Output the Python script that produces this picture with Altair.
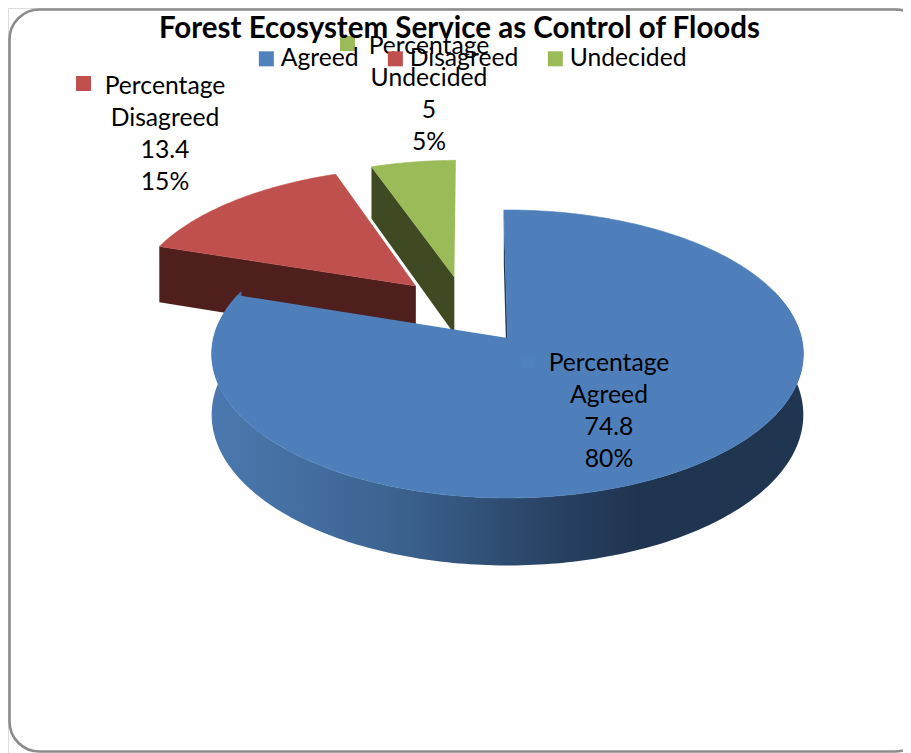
import math
import altair as alt
import pandas as pd

# ---- values
categories = ["Agreed", "Disagreed", "Undecided"]
values = [74.8, 13.4, 5]
percents = [80, 15, 5]

# ---- styles
face_colors = ["#4E7FBB", "#C0504D", "#9BBB59"]
wall_colors = ["#1F3450", "#4E1F1D", "#3F4A22"]
FONT = "Lato"
TEXT_SIZE = 24.7

# ---- layout / projection constants (screen pixels)
W, H = 895, 745
X0, Y0 = 507.5, 338
AX, BY, P = 294, 142.2, 0.111
DEPTH = 60
START = -0.8
explode = [(0, 0), (-0.325, 0.382), (-0.19, 0.451)]
key_x = [528, 83.5, 347.5]
key_y = [362, 83.5, 43.5]
label_x = [609, 165, 429]
label_y = [350.5, 73.5, 33.5]

X_SCALE = alt.Scale(domain=[8, 8 + W])
Y_SCALE = alt.Scale(domain=[8 + H, 8])
X = alt.X("x:Q", scale=X_SCALE, axis=None)
Y = alt.Y("y:Q", scale=Y_SCALE, axis=None)


def project(u, v, drop=False):
    d = 1 + P * v
    return X0 + AX * u / d, Y0 - BY * v / d + (DEPTH / d if drop else 0)


def rim(a0, a1, off, drop=False):
    n = max(2, int(abs(a1 - a0)) + 1)
    pts = []
    for k in range(n + 1):
        t = math.radians(a0 + (a1 - a0) * k / n)
        pts.append(project(off[0] + math.sin(t), off[1] + math.cos(t), drop))
    return pts


def poly(pts, fill, stroke=None):
    df = pd.DataFrame({"x": [p[0] for p in pts], "y": [p[1] for p in pts], "i": range(len(pts))})
    return (
        alt.Chart(df)
        .mark_line(fill=fill, stroke=stroke or "transparent", strokeWidth=0.6, clip=False)
        .encode(x=X, y=Y, order="i:Q")
    )


total = sum(values)
spans = []
a = START
for v in values:
    b = a + v / total * 360
    spans.append((a, b))
    a = b

layers = []

# border of the chart area
border = pd.DataFrame({"x": [9.5], "x2": [925], "y": [9.5], "y2": [751.5]})
layers.append(
    alt.Chart(border)
    .mark_rect(fill="white", stroke="#8C8C8C", strokeWidth=2.6, cornerRadius=30, clip=False)
    .encode(x=X, x2="x2:Q", y=Y, y2="y2:Q")
)

# exploded slices: radial wall then top face
for idx in (1, 2):
    a0, a1 = spans[idx]
    off = explode[idx]
    apex_t = project(off[0], off[1])
    apex_b = project(off[0], off[1], True)
    r0 = rim(a0, a0, off)[0]
    r0b = rim(a0, a0, off, True)[0]
    layers.append(poly([r0, apex_t, apex_b, r0b], wall_colors[idx]))
    layers.append(poly([apex_t] + rim(a0, a1, off), face_colors[idx], face_colors[idx]))

# main slice: outer wall with gradient, start wall, top face
a0, a1 = spans[0]
side = rim(70, 290, (0, 0)) + rim(290, 70, (0, 0), True)
gradient = alt.Gradient(
    gradient="linear",
    x1=0, y1=0, x2=1, y2=0,
    stops=[
        alt.GradientStop(color="#4B78AF", offset=0),
        alt.GradientStop(color="#3C6491", offset=0.3),
        alt.GradientStop(color="#2A4568", offset=0.55),
        alt.GradientStop(color="#1F3450", offset=0.72),
        alt.GradientStop(color="#20354F", offset=1),
    ],
)
layers.append(poly(side, gradient))
apex_t = project(0, 0)
layers.append(poly([rim(a0, a0, (0, 0))[0], apex_t, project(0, 0, True), rim(a0, a0, (0, 0), True)[0]], wall_colors[0]))
layers.append(poly([apex_t] + rim(a0, a1, (0, 0)), face_colors[0], face_colors[0]))

# data labels with their keys; the keys also drive the legend
labels = pd.DataFrame(
    {
        "cat": categories,
        "kx": key_x,
        "ky": key_y,
        "lx": label_x,
        "ly": label_y,
        "txt": [f"Percentage\n{c}\n{v}\n{p}%" for c, v, p in zip(categories, values, percents)],
    }
)
legend = alt.Legend(
    orient="none",
    legendX=246,
    legendY=38,
    direction="horizontal",
    columns=3,
    title=None,
    symbolType="square",
    symbolSize=225,
    symbolStrokeWidth=0,
    symbolOpacity=1,
    labelFont=FONT,
    labelFontSize=TEXT_SIZE,
    labelColor="black",
    labelOffset=2,
    columnPadding=24,
    labelLimit=200,
)
layers.append(
    alt.Chart(labels)
    .mark_square(size=225, opacity=1, clip=False)
    .encode(
        x=alt.X("kx:Q", scale=X_SCALE, axis=None),
        y=alt.Y("ky:Q", scale=Y_SCALE, axis=None),
        color=alt.Color(
            "cat:N",
            scale=alt.Scale(domain=categories, range=["#4F81BD", "#C0504D", "#9BBB59"]),
            legend=legend,
        ),
    )
)
layers.append(
    alt.Chart(labels)
    .mark_text(font=FONT, fontSize=TEXT_SIZE, lineHeight=32, lineBreak="\n", align="center", baseline="top", color="black", clip=False)
    .encode(
        x=alt.X("lx:Q", scale=X_SCALE, axis=None),
        y=alt.Y("ly:Q", scale=Y_SCALE, axis=None),
        text="txt:N",
    )
)

chart = (
    alt.layer(*layers)
    .properties(
        width=W,
        height=H,
        padding=0,
        autosize=alt.AutoSizeParams(type="none"),
        title=alt.TitleParams(
            "Forest Ecosystem Service as Control of Floods",
            font=FONT,
            fontSize=29.5,
            fontWeight="bold",
            color="black",
            anchor="middle",
            offset=-36,
            dx=4,
        ),
    )
    .configure_view(stroke=None)
    .configure(background="white")
)

chart.save("out.html", embed_options={"renderer": "svg", "actions": False})
